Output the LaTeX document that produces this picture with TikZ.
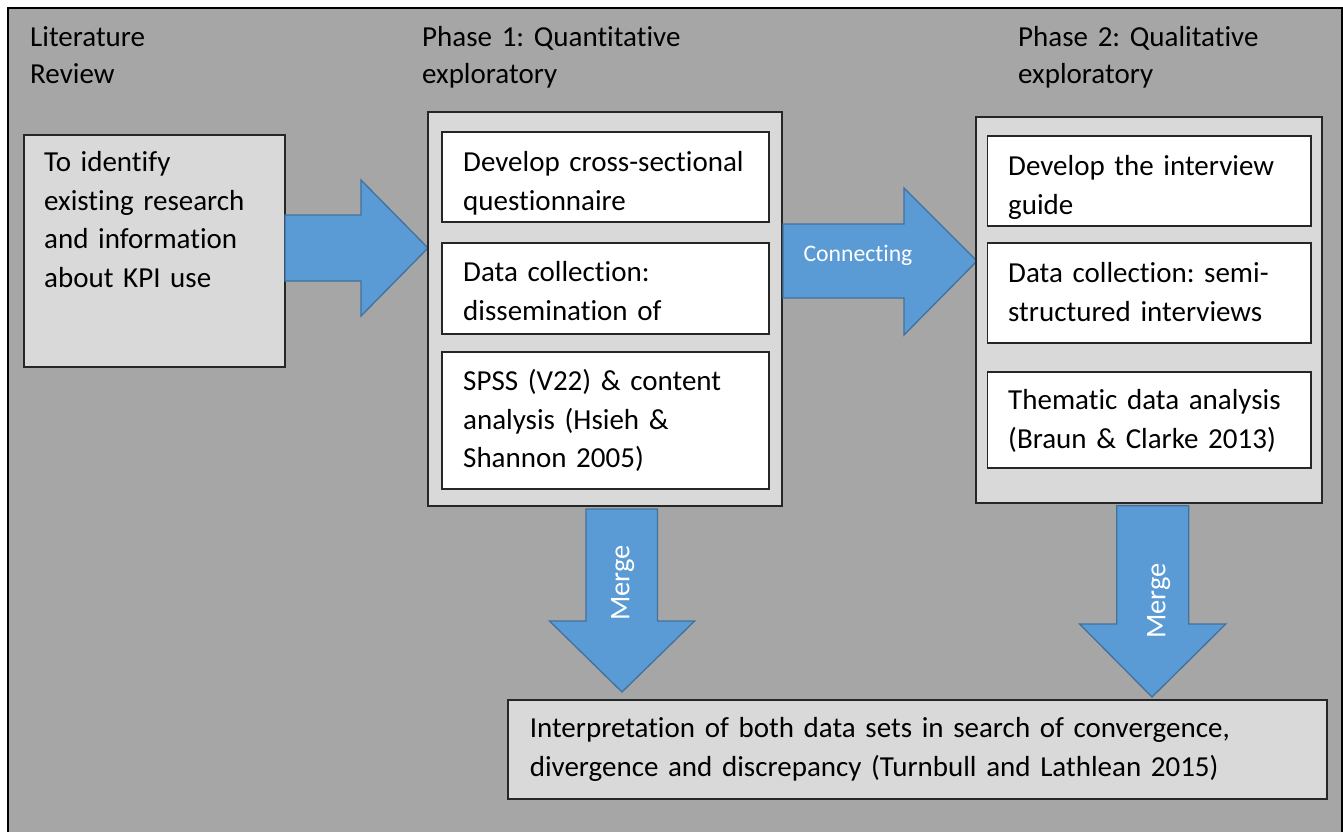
\documentclass[tikz,border=0pt]{standalone}
\usepackage{fontspec}
\setmainfont{Carlito}[Ligatures=NoCommon]
\frenchspacing
\definecolor{bgray}{HTML}{A6A6A6}
\definecolor{lgray}{HTML}{D9D9D9}
\definecolor{ablue}{HTML}{5B9BD5}
\definecolor{ablueb}{HTML}{41719C}
\begin{document}
\begin{tikzpicture}[x=1pt,y=-1pt,
  boxtxt/.style={anchor=north west,inner sep=0pt,align=left,text width=330pt,
    font=\fontsize{29}{38.5}\selectfont},
  titletxt/.style={anchor=north west,inner sep=0pt,align=left,text width=330pt,
    font=\fontsize{29}{36.5}\selectfont},
  graybox/.style={draw=black!85,line width=1.3pt,fill=lgray},
  whitebox/.style={draw=black!85,line width=1.3pt,fill=white},
  blockarrow/.style={draw=ablueb,line width=1.3pt,fill=ablue,line join=miter},
  arrowlbl/.style={text=white,inner sep=0pt}
]
\useasboundingbox (0,0) rectangle (1343,832);
\clip (0,0) rectangle (1343,832);
% frame
\draw[fill=bgray,draw=black,line width=2pt] (8,8) rectangle (1341.5,850);

% titles
\node[titletxt] (tlit) at (30,21) {\strut Literature\\Review};
\node[titletxt] (tp1) at (422,21) {\strut Phase 1: Quantitative\\exploratory};
\node[titletxt] (tp2) at (1018,21) {\strut Phase 2: Qualitative\\exploratory};

% left box
\draw[graybox] (24,135) rectangle (285,367);
\node[boxtxt] (lit) at (44,144.5) {\strut To identify\\existing research\\and information\\about KPI use};

% arrow 1
\draw[blockarrow] (285,215) -- (361,215) -- (361,180) -- (428,248) -- (361,316) -- (361,281) -- (285,281) -- cycle;

% phase 1
\draw[graybox] (428,112) rectangle (782,506);
\draw[whitebox] (442,132) rectangle (769,222);
\draw[whitebox] (442,243) rectangle (769,334);
\draw[whitebox] (442,352) rectangle (769,489);
\node[boxtxt] (p1a) at (463,144.5) {\strut Develop cross-sectional\\questionnaire};
\node[boxtxt] (p1b) at (463,254.5) {\strut Data collection:\\dissemination of};
\node[boxtxt] (p1c) at (463,363.5) {\strut SPSS (V22) \& content\\analysis (Hsieh \&\\Shannon 2005)};

% connecting arrow
\draw[blockarrow] (783,224) -- (904,224) -- (904,188) -- (977,261) -- (904,335) -- (904,298) -- (783,298) -- cycle;
\node[arrowlbl,font=\fontsize{23.7}{28}\selectfont] (conn) at (858,255) {Connecting};

% phase 2
\draw[graybox] (976,117) rectangle (1322,503);
\draw[whitebox] (987.5,136) rectangle (1311,226);
\draw[whitebox] (987.5,243) rectangle (1311,343);
\draw[whitebox] (987.5,372) rectangle (1311,468);
\node[boxtxt] (p2a) at (1008,148.5) {\strut Develop the interview\\guide};
\node[boxtxt] (p2b) at (1008,255.5) {\strut Data collection: semi-\\structured interviews};
\node[boxtxt] (p2c) at (1008,382.5) {\strut Thematic data analysis\\(Braun \& Clarke 2013)};

% merge arrows
\draw[blockarrow] (586,509) -- (657.5,509) -- (657.5,621) -- (694.6,621) -- (622,692) -- (549.5,621) -- (586,621) -- cycle;
\node[arrowlbl,rotate=90,font=\fontsize{28.5}{32}\selectfont] (m1) at (622.6,583) {Merge};
\draw[blockarrow] (1116.7,505.7) -- (1188.7,505.7) -- (1188.7,624) -- (1225.8,624) -- (1152,697) -- (1079.6,624) -- (1116.7,624) -- cycle;
\node[arrowlbl,rotate=90,font=\fontsize{28.5}{32}\selectfont] (m2) at (1158.6,601) {Merge};

% bottom box
\draw[graybox] (508,700) rectangle (1327,799);
\node[boxtxt,text width=800pt] (interp) at (529.6,710.5) {\strut Interpretation of both data sets in search of convergence,\\divergence and discrepancy (Turnbull and Lathlean 2015)};
\end{tikzpicture}
\end{document}
